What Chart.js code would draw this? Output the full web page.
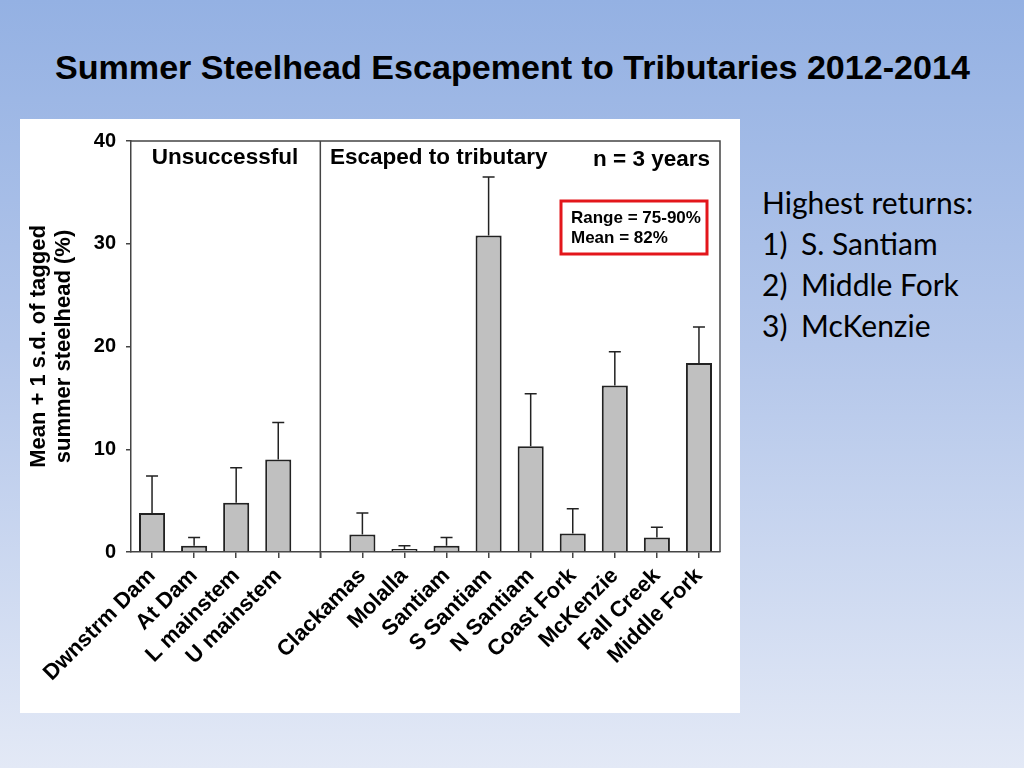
<!DOCTYPE html>
<html>
<head>
<meta charset="utf-8">
<script src="https://cdn.jsdelivr.net/npm/chart.js@4.4.1/dist/chart.umd.min.js"></script>
<style>
  html, body { margin: 0; padding: 0; }
  body {
    width: 1024px; height: 768px; overflow: hidden; position: relative;
    background: linear-gradient(to bottom, #94b1e3 0%, #b3c6ea 45%, #e3e9f6 100%);
    font-family: 'Liberation Sans', Arial, sans-serif;
  }
  #title {
    position: absolute; left: 55px; top: 49px; white-space: nowrap; line-height: 38px;
    font-weight: bold; font-size: 33px; color: #000; transform-origin: 0 0;
  }
  #panel {
    position: absolute; left: 20px; top: 119px; width: 720px; height: 594px; background: #fff;
  }
  #notes {
    position: absolute; left: 762px; top: 182px; font-family: Lato, 'Open Sans', sans-serif;
    font-size: 30px; line-height: 41px; color: #000;
  }
  #notes .n { display: inline-block; width: 39px; }
</style>
</head>
<body>
<div id="title">Summer Steelhead Escapement to Tributaries 2012-2014</div>
<div id="panel"><canvas id="chart"></canvas></div>
<div id="notes">
  <div>Highest returns:</div>
  <div><span class="n">1)</span>S. Santiam</div>
  <div><span class="n">2)</span>Middle Fork</div>
  <div><span class="n">3)</span>McKenzie</div>
</div>
<script>
// categories (empty slot between the two groups)
let sites = ['Dwnstrm Dam', 'At Dam', 'L mainstem', 'U mainstem', '',
  'Clackamas', 'Molalla', 'Santiam', 'S Santiam', 'N Santiam',
  'Coast Fork', 'McKenzie', 'Fall Creek', 'Middle Fork'];
let means = [3.8, 0.6, 4.8, 9.0, null, 1.7, 0.3, 0.6, 30.8, 10.3, 1.8, 16.2, 1.4, 18.4];
let sds = [3.6, 0.8, 3.4, 3.6, null, 2.1, 0.3, 0.8, 5.7, 5.1, 2.4, 3.3, 1.0, 3.5];
let yTicks = [0, 10, 20, 30, 40];

// squeeze title to the width it has on the slide
let titleEl = document.getElementById('title');
titleEl.style.transform = `scaleX(${915 / titleEl.offsetWidth})`;

let FONT = "'Liberation Sans', Arial, sans-serif";
let axisColor = '#444';

let extras = {
  id: 'extras',
  afterDatasetsDraw(chart) {
    let ctx = chart.ctx;
    let x = chart.scales.x, y = chart.scales.y;
    let area = chart.chartArea;
    ctx.save();

    // error bars (mean + 1 s.d.)
    ctx.strokeStyle = '#222';
    ctx.lineWidth = 1.5;
    means.forEach((m, i) => {
      if (m === null) return;
      let px = x.getPixelForValue(i);
      let top = y.getPixelForValue(m + sds[i]);
      let base = y.getPixelForValue(m);
      ctx.beginPath();
      ctx.moveTo(px, base);
      ctx.lineTo(px, top);
      ctx.moveTo(px - 6, top);
      ctx.lineTo(px + 6, top);
      ctx.stroke();
    });

    // top and right frame + divider between groups
    ctx.strokeStyle = axisColor;
    ctx.lineWidth = 1.5;
    ctx.beginPath();
    ctx.moveTo(area.left, area.top);
    ctx.lineTo(area.right, area.top);
    ctx.lineTo(area.right, area.bottom);
    let gx = x.getPixelForValue(4);
    ctx.moveTo(gx, area.top);
    ctx.lineTo(gx, area.bottom + 6);
    ctx.stroke();

    // group labels
    ctx.fillStyle = '#000';
    ctx.textBaseline = 'middle';
    ctx.font = `bold 22.5px ${FONT}`;
    ctx.textAlign = 'center';
    ctx.fillText('Unsuccessful', 205, 39);
    ctx.textAlign = 'left';
    ctx.fillText('Escaped to tributary', 310, 39);
    ctx.textAlign = 'right';
    ctx.fillText('n = 3 years', 690, 41);

    // red box
    ctx.strokeStyle = '#e3161b';
    ctx.lineWidth = 3;
    ctx.strokeRect(541, 82, 146, 53);
    ctx.textAlign = 'left';
    ctx.font = `bold 17px ${FONT}`;
    ctx.fillText('Range = 75-90%', 551, 99);
    ctx.fillText('Mean = 82%', 551, 119);
    ctx.restore();
  }
};

new Chart(document.getElementById('chart'), {
  type: 'bar',
  data: {
    labels: sites,
    datasets: [{
      data: means,
      backgroundColor: '#c0c0c0',
      borderColor: '#222',
      borderWidth: 2,
      categoryPercentage: 1,
      barPercentage: 0.62
    }]
  },
  options: {
    responsive: true,
    maintainAspectRatio: false,
    animation: false,
    layout: { padding: { top: 21, right: 20, left: 0, bottom: 0 } },
    plugins: { legend: { display: false }, tooltip: { enabled: false } },
    scales: {
      x: {
        grid: { offset: false, drawOnChartArea: false, tickLength: 6, color: axisColor, lineWidth: 1.5 },
        border: { color: axisColor, width: 1.5 },
        ticks: { autoSkip: false, minRotation: 45, maxRotation: 45, padding: 5, color: '#000',
          font: { family: FONT, size: 22, weight: 'bold' } },
        afterFit: s => { s.height = 161; }
      },
      y: {
        min: 0, max: 40,
        afterBuildTicks: s => { s.ticks = yTicks.map(v => ({ value: v })); },
        grid: { drawOnChartArea: false, tickLength: 5, color: axisColor, lineWidth: 1.5 },
        border: { color: axisColor, width: 1.5 },
        ticks: { padding: 10, color: '#000', font: { family: FONT, size: 20, weight: 'bold' } },
        title: {
          display: true,
          text: ['Mean + 1 s.d. of tagged', 'summer steelhead (%)'],
          color: '#000',
          font: { family: FONT, size: 22, weight: 'bold', lineHeight: 1.15 },
          padding: { top: 6, bottom: 0 }
        },
        afterFit: s => { s.width = 111; }
      }
    }
  },
  plugins: [extras]
});
</script>
</body>
</html>
